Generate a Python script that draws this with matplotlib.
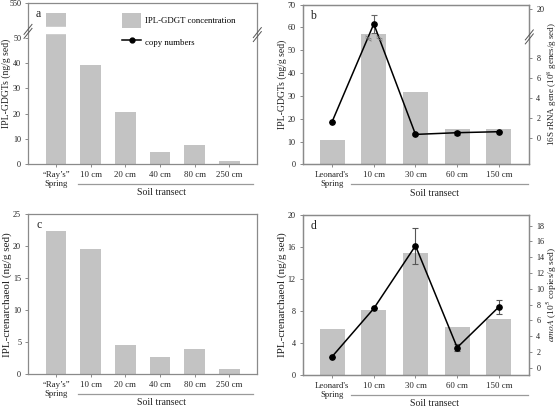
import numpy as np
import matplotlib
matplotlib.use("Agg")
import matplotlib.pyplot as plt
from matplotlib.patches import Patch
from matplotlib.lines import Line2D

plt.rcParams['font.family'] = ['Liberation Serif', 'DejaVu Serif']
plt.rcParams['mathtext.fontset'] = 'stix'

# ---------------- data ----------------
cats_ray = ['\u201cRay\u2019s\u201d\nSpring', '10 cm', '20 cm', '40 cm', '80 cm', '250 cm']
cats_leo = ["Leonard's\nSpring", '10 cm', '30 cm', '60 cm', '150 cm']

gdgt_ray = [530, 39.3, 20.5, 4.6, 7.7, 1.3]
gdgt_leo = [10.8, 57.3, 31.7, 15.6, 15.7]
rrna_leo = [1.6, 14.8, 0.33, 0.5, 0.6]
rrna_err = [0.0, 3.1, 0.1, 0.2, 0.05]

cren_ray = [22.4, 19.6, 4.6, 2.7, 3.9, 0.75]
cren_leo = [5.75, 8.15, 15.2, 6.0, 7.0]
amoa_leo = [1.4, 7.5, 15.45, 2.55, 7.7]
amoa_err = [0.0, 0.0, 2.3, 0.5, 0.85]

BAR = '#c3c3c3'
SPINE = '#8a8a8a'
TXT = '#222222'
XT_FS = 6.3
YT_FS = 5.9
LAB_FS = 7.0

fig = plt.figure(figsize=(5.6, 4.08), dpi=100)

def style(ax):
    for s in ax.spines.values():
        s.set_color(SPINE)
        s.set_linewidth(0.9)
    ax.tick_params(axis='both', direction='out', length=2.5, width=0.7,
                   color=SPINE, labelcolor=TXT, pad=2.5)
    ax.tick_params(axis='x', labelsize=XT_FS)
    ax.tick_params(axis='y', labelsize=YT_FS)

def transect(ax, x0, x1):
    ax.plot([x0, x1], [-0.125, -0.125], transform=ax.transAxes, color='#9a9a9a',
            lw=0.9, clip_on=False)
    ax.text((x0 + x1) / 2 - 0.02, -0.18, 'Soil transect', transform=ax.transAxes,
            ha='center', va='center', fontsize=LAB_FS, color=TXT)

def brk(ax, xf, yf, w=4, h=5, sep=4):
    bb = ax.get_position()
    W = bb.width * 560
    H = bb.height * 408
    for off in (-sep / 2, sep / 2):
        ax.plot([xf - w / W, xf + w / W], [yf + (off - h) / H, yf + (off + h) / H],
                transform=ax.transAxes, color='#555555', lw=0.7, clip_on=False, zorder=5)

# ---------------- panel a ----------------
L, U, G, K = 52.0, 500.0, 2.4, 0.19

def fwd_a(v):
    v = np.asarray(v, dtype=float)
    return np.where(v <= L, v, np.where(v <= U, L + (v - L) / (U - L) * G, L + G + (v - U) * K))

def inv_a(t):
    t = np.asarray(t, dtype=float)
    return np.where(t <= L, t, np.where(t <= L + G, L + (t - L) / G * (U - L), U + (t - L - G) / K))

axa = fig.add_axes([0.05, 0.598, 0.4095, 0.3946])
xa = np.arange(len(cats_ray))
axa.bar(xa, gdgt_ray, width=0.6, color=BAR, zorder=1)
axa.set_yscale('function', functions=(fwd_a, inv_a))
axa.set_ylim(0, 550)
axa.axhspan(L, U, color='white', zorder=1.5)
axa.set_yticks([0, 10, 20, 30, 40, 50, 550])
axa.set_yticklabels(['0', '10', '20', '30', '40', '50', '550'])
axa.set_xlim(-0.81, 5.81)
axa.set_xticks(xa)
axa.set_xticklabels(cats_ray)
axa.set_ylabel('IPL-GDGTs (ng/g sed)', fontsize=LAB_FS, color=TXT)
axa.yaxis.set_label_coords(-0.073, 0.5)
style(axa)
axa.minorticks_off()
yb = float(fwd_a(53.2) / fwd_a(550))
brk(axa, 0.0, yb + 0.01)
brk(axa, 1.0, yb - 0.01)
axa.text(0.035, 0.93, 'a', transform=axa.transAxes, fontsize=8.5, color=TXT, va='center')
transect(axa, 0.218, 0.983)
handles = [Patch(facecolor=BAR, edgecolor='none'),
           Line2D([], [], color='black', marker='o', ms=3.5, lw=1.1)]
axa.legend(handles, ['IPL-GDGT concentration', 'copy numbers'], loc='upper left',
           bbox_to_anchor=(0.385, 0.975), frameon=False, fontsize=6.3, handlelength=2.1,
           handleheight=2.2, labelspacing=0.8, handletextpad=0.45, borderpad=0.2)

# ---------------- panel b ----------------
LB, KB = 10.0, 0.287

def fwd_b(v):
    v = np.asarray(v, dtype=float)
    return np.where(v <= LB, v, LB + (v - LB) * KB)

def inv_b(t):
    t = np.asarray(t, dtype=float)
    return np.where(t <= LB, t, LB + (t - LB) / KB)

axb = fig.add_axes([0.5402, 0.5973, 0.405, 0.3912])
xb = np.arange(len(cats_leo))
axb.bar(xb, gdgt_leo, width=0.6, color=BAR, zorder=1)
axb.set_ylim(0, 70)
axb.set_yticks(range(0, 71, 10))
axb.set_xlim(-0.71, 4.73)
axb.set_xticks(xb)
axb.set_xticklabels(cats_leo)
axb.set_ylabel('IPL-GDGTs (ng/g sed)', fontsize=LAB_FS, color=TXT)
axb.yaxis.set_label_coords(-0.07, 0.5)
style(axb)
axb2 = axb.twinx()
axb2.set_yscale('function', functions=(fwd_b, inv_b))
axb2.errorbar(xb, rrna_leo, yerr=rrna_err, fmt='-o', color='black', ecolor='#666666',
              lw=1.1, ms=3.8, capsize=2.2, elinewidth=0.8, capthick=0.8, zorder=3)
# small break marks where the line crosses the axis break
tv = np.asarray(fwd_b(rrna_leo))
for i in range(len(tv) - 1):
    if (tv[i] - LB) * (tv[i + 1] - LB) < 0:
        xc = xb[i] + (LB - tv[i]) / (tv[i + 1] - tv[i])
        axb2.plot([xc, xc], [LB - 0.15, LB + 0.15], ls='none', marker=(2, 0, 60),
                  ms=5, mew=0.6, color='#777777', zorder=4)
axb2.set_ylim(-2.66, 21.5)
axb2.set_yticks([0, 2, 4, 6, 8, 20])
axb2.minorticks_off()
axb2.set_ylabel('16S rRNA gene (10$^{8}$ genes/g sed)', fontsize=6.5, color=TXT)
axb2.yaxis.set_label_coords(1.07, 0.5)
style(axb2)
axb2.set_xlim(-0.71, 4.73)
tb = float((fwd_b(10.0) - fwd_b(-2.66)) / (fwd_b(21.5) - fwd_b(-2.66)))
brk(axb2, 1.0, tb + 0.005)
axb.text(0.035, 0.93, 'b', transform=axb.transAxes, fontsize=8.5, color=TXT, va='center')
transect(axb, 0.213, 0.993)

# ---------------- panel c ----------------
axc = fig.add_axes([0.05, 0.0833, 0.4095, 0.3915])
axc.bar(xa, cren_ray, width=0.6, color=BAR, zorder=1)
axc.set_ylim(0, 25)
axc.set_yticks(range(0, 26, 5))
axc.set_xlim(-0.81, 5.81)
axc.set_xticks(xa)
axc.set_xticklabels(cats_ray)
axc.set_ylabel('IPL-crenarchaeol (ng/g sed)', fontsize=8.0, color=TXT)
axc.yaxis.set_label_coords(-0.07, 0.5)
style(axc)
axc.text(0.035, 0.93, 'c', transform=axc.transAxes, fontsize=8.5, color=TXT, va='center')
transect(axc, 0.218, 0.983)

# ---------------- panel d ----------------
axd = fig.add_axes([0.5402, 0.0809, 0.405, 0.3922])
axd.bar(xb, cren_leo, width=0.6, color=BAR, zorder=1)
axd.set_ylim(0, 20)
axd.set_yticks(range(0, 21, 4))
axd.set_xlim(-0.71, 4.73)
axd.set_xticks(xb)
axd.set_xticklabels(cats_leo)
axd.set_ylabel('IPL-crenarchaeol (ng/g sed)', fontsize=8.0, color=TXT)
axd.yaxis.set_label_coords(-0.07, 0.5)
style(axd)
axd2 = axd.twinx()
axd2.errorbar(xb, amoa_leo, yerr=amoa_err, fmt='-o', color='black', ecolor='#555555',
              lw=1.1, ms=3.8, capsize=2.2, elinewidth=0.8, capthick=0.8, zorder=3)
axd2.set_ylim(-0.93, 19.35)
axd2.set_yticks(range(0, 19, 2))
axd2.set_ylabel(r'$\it{amoA}$ (10$^{5}$ copies/g sed)', fontsize=6.8, color=TXT)
axd2.yaxis.set_label_coords(1.07, 0.5)
style(axd2)
axd2.set_xlim(-0.71, 4.73)
axd.text(0.035, 0.93, 'd', transform=axd.transAxes, fontsize=8.5, color=TXT, va='center')
transect(axd, 0.213, 0.993)

fig.savefig('out.png', dpi=100)
